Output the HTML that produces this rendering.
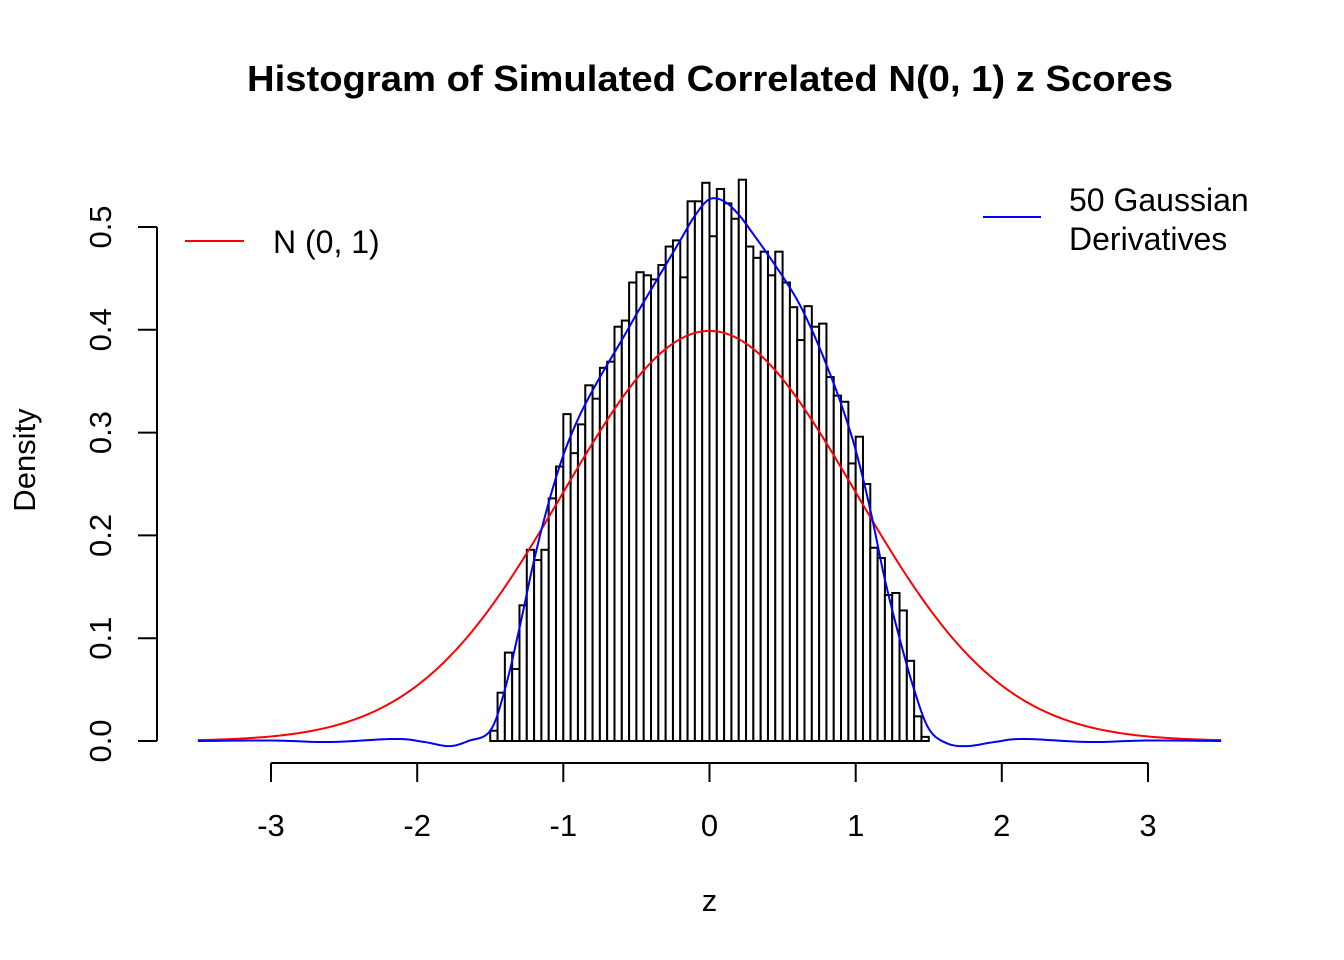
<!DOCTYPE html>
<html><head><meta charset="utf-8"><style>
html,body{margin:0;padding:0;background:#fff;}
svg{display:block;font-family:"Liberation Sans",Arial,sans-serif;}
</style></head><body>
<svg id="s" width="1344" height="960" viewBox="0 0 1344 960" xmlns="http://www.w3.org/2000/svg">
<rect width="1344" height="960" fill="#fff"/>
<text x="710" y="91" font-size="36" font-weight="bold" text-anchor="middle" textLength="926" lengthAdjust="spacingAndGlyphs">Histogram of Simulated Correlated N(0, 1) z Scores</text>
<g id="hist" fill="#fff" stroke="#000" stroke-width="2"></g>
<path id="red" fill="none" stroke="#ff0000" stroke-width="2"/>
<path id="blue" fill="none" stroke="#0000ff" stroke-width="2"/>
<g stroke="#000" stroke-width="2" fill="none">
<line x1="157" y1="227" x2="157" y2="741"/>
<line x1="138" y1="741" x2="157" y2="741"/>
<line x1="138" y1="638.2" x2="157" y2="638.2"/>
<line x1="138" y1="535.4" x2="157" y2="535.4"/>
<line x1="138" y1="432.6" x2="157" y2="432.6"/>
<line x1="138" y1="329.8" x2="157" y2="329.8"/>
<line x1="138" y1="227" x2="157" y2="227"/>
<line x1="271" y1="763" x2="1148" y2="763"/>
<line x1="271" y1="763" x2="271" y2="782"/>
<line x1="417.2" y1="763" x2="417.2" y2="782"/>
<line x1="563.3" y1="763" x2="563.3" y2="782"/>
<line x1="709.5" y1="763" x2="709.5" y2="782"/>
<line x1="855.7" y1="763" x2="855.7" y2="782"/>
<line x1="1001.8" y1="763" x2="1001.8" y2="782"/>
<line x1="1148" y1="763" x2="1148" y2="782"/>
</g>
<g font-size="31" text-anchor="middle">
<text x="271" y="836">-3</text><text x="417.2" y="836">-2</text><text x="563.3" y="836">-1</text>
<text x="709.5" y="836">0</text><text x="855.7" y="836">1</text><text x="1001.8" y="836">2</text><text x="1148" y="836">3</text>
<text x="709.5" y="911">z</text>
<text transform="translate(111,741) rotate(-90)">0.0</text>
<text transform="translate(111,638.2) rotate(-90)">0.1</text>
<text transform="translate(111,535.4) rotate(-90)">0.2</text>
<text transform="translate(111,432.6) rotate(-90)">0.3</text>
<text transform="translate(111,329.8) rotate(-90)">0.4</text>
<text transform="translate(111,227) rotate(-90)">0.5</text>
<text transform="translate(35,460) rotate(-90)">Density</text>
</g>
<line x1="185" y1="241" x2="244" y2="241" stroke="#ff0000" stroke-width="2"/>
<text x="273" y="253" font-size="32">N (0, 1)</text>
<line x1="983" y1="217" x2="1041" y2="217" stroke="#0000ff" stroke-width="2"/>
<text x="1069" y="211" font-size="32">50 Gaussian</text>
<text x="1069" y="250" font-size="32">Derivatives</text>
</svg>
<script>
var X=function(z){return 709.5+z*146.17;},Y=function(d){return 741-d*1028;};
var h=[0.01,0.047,0.086,0.070,0.132,0.186,0.176,0.186,0.236,0.267,0.318,0.280,0.308,0.346,0.333,0.363,0.369,0.403,0.409,0.446,0.456,0.453,0.449,0.463,0.481,0.487,0.451,0.525,0.525,0.543,0.491,0.537,0.523,0.508,0.546,0.481,0.470,0.476,0.453,0.476,0.446,0.422,0.390,0.423,0.403,0.406,0.354,0.336,0.330,0.270,0.296,0.250,0.188,0.178,0.142,0.144,0.127,0.078,0.024,0.004];
var g=document.getElementById('hist'),s='';
for(var i=0;i<h.length;i++){var x0=X(-1.5+i*0.05),x1=X(-1.5+(i+1)*0.05);
s+='<rect x="'+x0.toFixed(2)+'" y="'+Y(h[i]).toFixed(2)+'" width="'+(x1-x0).toFixed(2)+'" height="'+(h[i]*1028).toFixed(2)+'"/>';}
g.innerHTML=s;
var d='';for(var z=-3.5;z<=3.5001;z+=0.02){var p=Math.exp(-z*z/2)/Math.sqrt(2*Math.PI);d+=(d?'L':'M')+X(z).toFixed(2)+' '+Y(p).toFixed(2);}
document.getElementById('red').setAttribute('d',d);
var pts=[[-3.5,0],[-3,0.0005],[-2.6,-0.001],[-2.15,0.002],[-1.95,-0.001],[-1.78,-0.005],[-1.65,0],[-1.5,0.01],[-1.4,0.05],[-1.3,0.11],[-1.2,0.176],[-1.1,0.232],[-1.0,0.278],[-0.9,0.313],[-0.8,0.341],[-0.7,0.366],[-0.6,0.39],[-0.5,0.415],[-0.4,0.439],[-0.3,0.463],[-0.2,0.487],[-0.1,0.511],[0,0.527],[0.1,0.525],[0.2,0.512],[0.3,0.493],[0.4,0.473],[0.5,0.452],[0.6,0.429],[0.7,0.4],[0.8,0.366],[0.9,0.328],[1.0,0.283],[1.1,0.225],[1.2,0.157],[1.3,0.1],[1.4,0.05],[1.5,0.012],[1.62,-0.002],[1.76,-0.005],[1.95,-0.001],[2.15,0.002],[2.6,-0.001],[3,0.0005],[3.5,0]];
var b='M'+X(pts[0][0])+' '+Y(pts[0][1]);
for(var i=0;i<pts.length-1;i++){var p0=pts[Math.max(0,i-1)],p1=pts[i],p2=pts[i+1],p3=pts[Math.min(pts.length-1,i+2)];
for(var t=0.1;t<=1.0001;t+=0.1){var t2=t*t,t3=t2*t;
var f=function(a,b,c,e){return 0.5*((2*b)+(-a+c)*t+(2*a-5*b+4*c-e)*t2+(-a+3*b-3*c+e)*t3);};
b+='L'+X(f(p0[0],p1[0],p2[0],p3[0])).toFixed(2)+' '+Y(f(p0[1],p1[1],p2[1],p3[1])).toFixed(2);}}
document.getElementById('blue').setAttribute('d',b);
</script>
</body></html>
